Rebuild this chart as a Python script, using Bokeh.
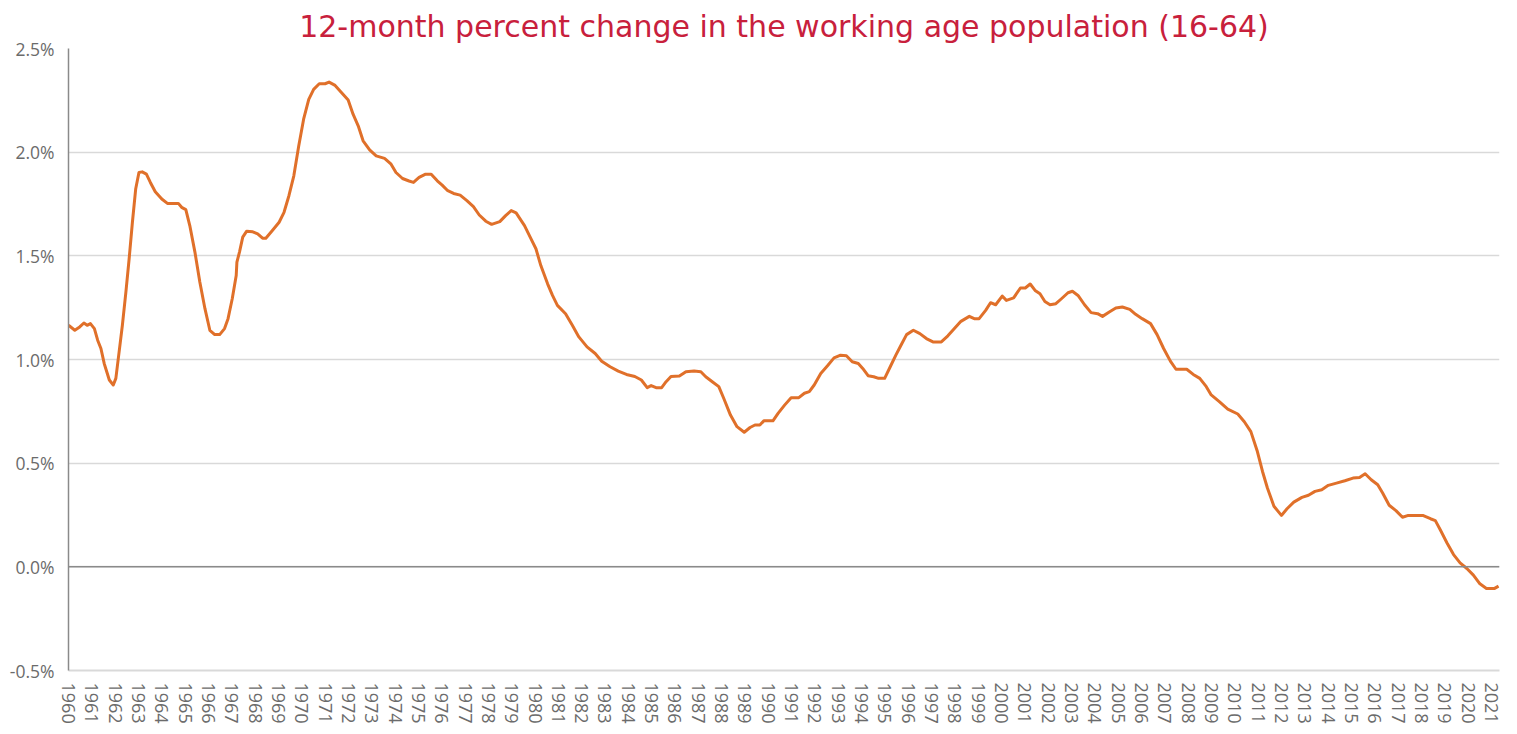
from bokeh.plotting import figure
from bokeh.models import ColumnDataSource, FixedTicker, PrintfTickFormatter, Range1d, Span
from bokeh.embed import file_html
from bokeh.resources import INLINE

title_text = "12-month percent change in the working age population (16-64)"

years = [
    1960.00, 1960.27, 1960.48, 1960.66, 1960.80, 1960.94, 1961.11, 1961.25, 1961.39, 1961.53,
    1961.75, 1961.92, 1962.03, 1962.17, 1962.31, 1962.46, 1962.60, 1962.74, 1962.88, 1963.02,
    1963.16, 1963.34, 1963.51, 1963.72, 1964.00, 1964.24, 1964.71, 1964.85, 1965.03, 1965.20,
    1965.42, 1965.63, 1965.85, 1966.06, 1966.27, 1966.48, 1966.69, 1966.84, 1967.02, 1967.19,
    1967.22, 1967.33, 1967.47, 1967.64, 1967.90, 1968.11, 1968.32, 1968.46, 1968.74, 1969.03,
    1969.24, 1969.45, 1969.66, 1969.87, 1970.08, 1970.30, 1970.51, 1970.75, 1971.00, 1971.17,
    1971.43, 1971.71, 1971.99, 1972.20, 1972.42, 1972.63, 1972.91, 1973.19, 1973.55, 1973.83,
    1974.04, 1974.32, 1974.60, 1974.79, 1975.03, 1975.31, 1975.55, 1975.81, 1976.02, 1976.26,
    1976.51, 1976.79, 1977.08, 1977.36, 1977.61, 1977.89, 1978.14, 1978.49, 1978.74, 1978.98,
    1979.19, 1979.55, 1979.83, 1980.04, 1980.25, 1980.54, 1980.75, 1980.96, 1981.31, 1981.60,
    1981.88, 1982.23, 1982.58, 1982.86, 1983.22, 1983.57, 1983.92, 1984.28, 1984.56, 1984.81,
    1984.98, 1985.19, 1985.43, 1985.62, 1985.83, 1986.19, 1986.47, 1986.82, 1987.11, 1987.32,
    1987.60, 1987.88, 1988.09, 1988.38, 1988.66, 1988.97, 1989.22, 1989.43, 1989.64, 1989.81,
    1990.20, 1990.42, 1990.70, 1990.98, 1991.31, 1991.55, 1991.76, 1991.97, 1992.25, 1992.54,
    1992.82, 1993.10, 1993.35, 1993.60, 1993.86, 1994.05, 1994.28, 1994.52, 1994.73, 1994.99,
    1995.23, 1995.47, 1995.69, 1995.93, 1996.22, 1996.50, 1996.78, 1997.06, 1997.42, 1997.70,
    1997.98, 1998.26, 1998.62, 1998.83, 1999.04, 1999.32, 1999.53, 1999.75, 2000.03, 2000.21,
    2000.52, 2000.81, 2001.02, 2001.23, 2001.44, 2001.65, 2001.86, 2002.08, 2002.33, 2002.57,
    2002.85, 2003.04, 2003.28, 2003.56, 2003.84, 2004.12, 2004.33, 2004.62, 2004.90, 2005.18,
    2005.50, 2005.75, 2006.03, 2006.39, 2006.67, 2006.95, 2007.24, 2007.48, 2007.94, 2008.22,
    2008.50, 2008.78, 2008.99, 2009.35, 2009.70, 2010.13, 2010.41, 2010.69, 2010.97, 2011.19,
    2011.40, 2011.68, 2012.00, 2012.24, 2012.53, 2012.88, 2013.16, 2013.44, 2013.73, 2014.01,
    2014.36, 2014.72, 2015.07, 2015.35, 2015.59, 2015.85, 2016.13, 2016.34, 2016.62, 2016.91,
    2017.19, 2017.44, 2017.75, 2018.06, 2018.39, 2018.60, 2018.81, 2019.10, 2019.38, 2019.66,
    2019.95, 2020.23, 2020.51, 2020.79, 2021.14, 2021.31,
]

pct_change = [
    1.165, 1.141, 1.157, 1.176, 1.165, 1.173, 1.149, 1.093, 1.053, 0.981,
    0.901, 0.877, 0.909, 1.037, 1.165, 1.325, 1.486, 1.662, 1.822, 1.902,
    1.905, 1.894, 1.854, 1.809, 1.774, 1.753, 1.753, 1.734, 1.723, 1.646,
    1.518, 1.374, 1.245, 1.141, 1.120, 1.120, 1.149, 1.197, 1.293, 1.405,
    1.470, 1.518, 1.590, 1.619, 1.616, 1.606, 1.585, 1.585, 1.622, 1.662,
    1.710, 1.790, 1.886, 2.030, 2.159, 2.255, 2.303, 2.330, 2.330, 2.338,
    2.322, 2.287, 2.252, 2.183, 2.127, 2.055, 2.011, 1.982, 1.970, 1.942,
    1.902, 1.873, 1.861, 1.854, 1.878, 1.894, 1.894, 1.862, 1.841, 1.814,
    1.801, 1.793, 1.766, 1.737, 1.697, 1.667, 1.652, 1.665, 1.694, 1.718,
    1.707, 1.646, 1.582, 1.534, 1.453, 1.365, 1.309, 1.261, 1.221, 1.165,
    1.109, 1.061, 1.029, 0.992, 0.965, 0.944, 0.928, 0.918, 0.901, 0.864,
    0.874, 0.864, 0.864, 0.893, 0.918, 0.920, 0.941, 0.944, 0.941, 0.917,
    0.893, 0.869, 0.813, 0.732, 0.676, 0.649, 0.672, 0.684, 0.684, 0.704,
    0.704, 0.740, 0.780, 0.816, 0.816, 0.837, 0.845, 0.877, 0.933, 0.970,
    1.008, 1.021, 1.018, 0.989, 0.981, 0.957, 0.922, 0.917, 0.909, 0.909,
    0.965, 1.021, 1.069, 1.120, 1.141, 1.125, 1.101, 1.085, 1.085, 1.114,
    1.149, 1.184, 1.208, 1.197, 1.197, 1.237, 1.274, 1.264, 1.306, 1.285,
    1.297, 1.345, 1.345, 1.364, 1.333, 1.317, 1.280, 1.264, 1.269, 1.293,
    1.322, 1.329, 1.309, 1.264, 1.226, 1.221, 1.208, 1.229, 1.248, 1.253,
    1.242, 1.218, 1.197, 1.173, 1.120, 1.053, 0.992, 0.953, 0.953, 0.928,
    0.909, 0.869, 0.829, 0.796, 0.761, 0.737, 0.700, 0.652, 0.556, 0.460,
    0.380, 0.292, 0.248, 0.280, 0.312, 0.335, 0.345, 0.364, 0.372, 0.393,
    0.404, 0.415, 0.428, 0.431, 0.449, 0.420, 0.396, 0.356, 0.297, 0.271,
    0.239, 0.248, 0.248, 0.248, 0.232, 0.223, 0.179, 0.115, 0.059, 0.019,
    -0.008, -0.040, -0.082, -0.104, -0.104, -0.093,
]

year_ticks = list(range(1960, 2022))
y_ticks = [-0.5, 0.0, 0.5, 1.0, 1.5, 2.0, 2.5]

source = ColumnDataSource(data=dict(year=years, pct=pct_change))

p = figure(
    width=1509, height=726,
    output_backend="svg", toolbar_location=None,
    x_range=Range1d(1960, 2021.35), y_range=Range1d(-0.5, 2.5),
    min_border_left=68, min_border_right=10, min_border_top=48, min_border_bottom=50,
)

p.title.text = title_text
p.title.align = "center"
p.title.text_font = "DejaVu Sans"
p.title.text_font_size = "30px"
p.title.text_font_style = "normal"
p.title.text_color = "#C8203C"
p.title.standoff = 10
p.title.offset = 0

p.outline_line_color = None
p.background_fill_color = "white"

# grid
p.xgrid.grid_line_color = None
p.ygrid.ticker = FixedTicker(ticks=y_ticks)
p.ygrid.grid_line_color = "#d9d9d9"
p.ygrid.grid_line_width = 1.5

# y axis
p.yaxis.ticker = FixedTicker(ticks=y_ticks)
p.yaxis.formatter = PrintfTickFormatter(format="%.1f%%")
p.yaxis.axis_line_color = "#8a8a8a"
p.yaxis.axis_line_width = 1.5
p.yaxis.major_tick_line_color = None
p.yaxis.minor_tick_line_color = None
p.yaxis.major_label_text_font = "Open Sans"
p.yaxis.major_label_text_font_size = "17.5px"
p.yaxis.major_label_text_color = "#6b6b6b"
p.yaxis.major_label_standoff = 8

# x axis
p.xaxis.ticker = FixedTicker(ticks=year_ticks)
p.xaxis.major_label_overrides = {y: str(y) for y in year_ticks}
p.xaxis.major_label_orientation = "vertical"
p.xaxis.axis_line_color = "#d9d9d9"
p.xaxis.axis_line_width = 2
p.xaxis.major_tick_line_color = None
p.xaxis.minor_tick_line_color = None
p.xaxis.major_label_text_font = "Open Sans"
p.xaxis.major_label_text_font_size = "18px"
p.xaxis.major_label_text_color = "#6b6b6b"
p.xaxis.major_label_standoff = 6

zero = Span(location=0, dimension="width", line_color="#8a8a8a", line_width=1.5)
p.add_layout(zero)

p.line("year", "pct", source=source, line_color="#E0702A", line_width=3, line_join="round")

open("out.html", "w").write(file_html(p, INLINE))
